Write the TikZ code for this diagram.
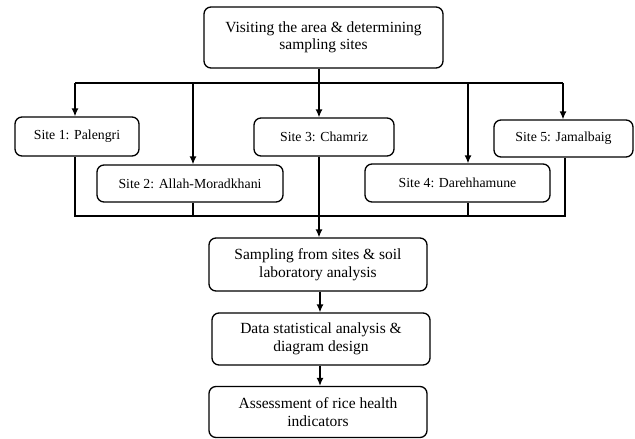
\documentclass[tikz,border=0pt]{standalone}
\usepackage{fontspec}
\setmainfont{Liberation Serif}
\usepackage{tikz}
\usetikzlibrary{arrows.meta,shapes,positioning,calc}

\begin{document}
\begin{tikzpicture}[x=1pt,y=-1pt,
        box/.style={rectangle, draw=black, line width=1.3pt, fill=white,
                    align=center, rounded corners=7pt, inner sep=2pt,
                    font=\fontsize{15.5}{17.5}\selectfont},
        sitebox/.style={box, font=\fontsize{13.8}{16}\selectfont},
        link/.style={line width=1.3pt},
        arr/.style={line width=1.3pt, -{Latex[length=8pt,width=7pt]}}
      ]
        \useasboundingbox (0,0) rectangle (635,439);

        \node[box, minimum width=239pt, minimum height=61pt] (visit) at (323.5, 37.5) {Visiting the area \& determining\\sampling sites};
        \node[sitebox, minimum width=124pt, minimum height=39pt] (site1) at (77, 136.5) {Site 1: Palengri};
        \node[sitebox, minimum width=186pt, minimum height=37pt] (site2) at (190, 183.5) {Site 2: Allah-Moradkhani};
        \node[sitebox, minimum width=140pt, minimum height=38pt] (site3) at (324, 137) {Site 3: Chamriz};
        \node[sitebox, minimum width=185pt, minimum height=38pt] (site4) at (457.5, 183) {Site 4: Darehhamune};
        \node[sitebox, minimum width=139pt, minimum height=37pt] (site5) at (563.5, 138.5) {Site 5: Jamalbaig};
        \node[box, minimum width=218pt, minimum height=53pt] (sampling) at (318, 264.5) {Sampling from sites \& soil\\laboratory analysis};
        \node[box, minimum width=218pt, minimum height=52pt] (data) at (321, 339) {Data statistical analysis \&\\diagram design};
        \node[box, minimum width=218pt, minimum height=51pt] (assess) at (318, 412) {Assessment of rice health\\indicators};

        % upper bus
        \coordinate (u1) at (75,83);
        \coordinate (u2) at (193,83);
        \coordinate (u3) at (319,83);
        \coordinate (u4) at (468,83);
        \coordinate (u5) at (563,83);
        \draw[link] (u1) -- (u5);
        \draw[link] (u3 |- visit.south) -- (u3);
        \draw[arr] (u1) -- (u1 |- site1.north);
        \draw[arr] (u2) -- (u2 |- site2.north);
        \draw[arr] (u3) -- (u3 |- site3.north);
        \draw[arr] (u4) -- (u4 |- site4.north);
        \draw[arr] (u5) -- (u5 |- site5.north);

        % lower bus
        \coordinate (d1) at (75,216);
        \coordinate (d2) at (193,216);
        \coordinate (d3) at (319,216);
        \coordinate (d4) at (468,216);
        \coordinate (d5) at (565,216);
        \draw[link] (d1 |- site1.south) -- (d1) -- (d5) -- (d5 |- site5.south);
        \draw[link] (d2 |- site2.south) -- (d2);
        \draw[link] (d4 |- site4.south) -- (d4);
        \draw[arr] (d3 |- site3.south) -- (d3 |- sampling.north);

        % lower chain
        \coordinate (c) at (320,0);
        \draw[arr] (c |- sampling.south) -- (c |- data.north);
        \draw[arr] (c |- data.south) -- (c |- assess.north);
      \end{tikzpicture}
\end{document}
